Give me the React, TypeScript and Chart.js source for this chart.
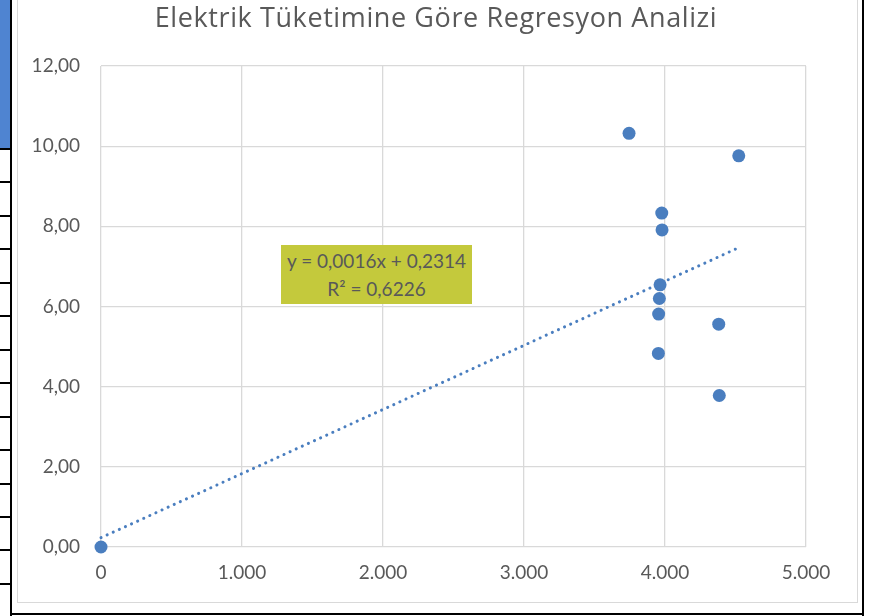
import React, { useEffect, useRef } from "react";
import { Chart, registerables } from "chart.js";

Chart.register(...registerables);

const titleText = "Elektrik Tüketimine Göre Regresyon Analizi";
const xValues = [0, 3745, 4523, 3977, 3979, 3965, 3960, 3955, 4381, 3953, 4385];
const yValues = [0, 10.32, 9.76, 8.33, 7.91, 6.54, 6.2, 5.81, 5.56, 4.83, 3.78];
const trendSlope = 0.0016;
const trendIntercept = 0.2314;
const equationLines = ["y = 0,0016x + 0,2314", "R² = 0,6226"];
const yTicks = [0, 2, 4, 6, 8, 10, 12];
const xTicks = [0, 1000, 2000, 3000, 4000, 5000];

const FONT = "Lato, 'Open Sans', sans-serif";
const TITLE_FONT = "'Open Sans', Lato, sans-serif";
const TEXT = "#595959";
const GRID = "#D9D9D9";
const BLUE = "#4A7EBF";

function fmtY(v: number) {
  return v.toFixed(2).replace(".", ",");
}
function fmtX(v: number) {
  if (v === 0) return "0";
  const s = String(Math.round(v));
  return s.replace(/\B(?=(\d{3})+(?!\d))/g, ".");
}

export default function App() {
  const ref = useRef<HTMLCanvasElement | null>(null);

  useEffect(() => {
    if (!ref.current) return;
    const points = xValues.map((x, i) => ({ x, y: yValues[i] }));
    const xMax = Math.max(...xValues);
    const trend = [
      { x: 0, y: trendIntercept },
      { x: xMax, y: trendSlope * xMax + trendIntercept },
    ];
    const chart = new Chart(ref.current, {
      type: "scatter",
      data: {
        datasets: [
          {
            data: points,
            backgroundColor: BLUE,
            borderColor: BLUE,
            pointRadius: 6.5,
            borderWidth: 0,
            clip: false,
            order: 1,
          } as any,
          {
            data: trend,
            showLine: true,
            pointRadius: 0,
            borderColor: BLUE,
            borderWidth: 3,
            borderDash: [0.1, 6.6],
            borderCapStyle: "round",
            clip: false,
            order: 2,
          } as any,
        ],
      },
      options: {
        responsive: false,
        animation: false,
        devicePixelRatio: 1,
        layout: { padding: { left: 0, right: 71, top: 66, bottom: 0 } },
        plugins: {
          legend: { display: false },
          title: { display: false },
          tooltip: { enabled: false },
        },
        scales: {
          x: {
            type: "linear",
            min: 0,
            max: 5000,
            afterBuildTicks: (axis: any) => {
              axis.ticks = xTicks.map((v) => ({ value: v }));
            },
            afterFit: (axis: any) => {
              axis.height = 69;
            },
            ticks: {
              color: TEXT,
              font: { family: FONT, size: 19 },
              padding: 14,
              maxRotation: 0,
              callback: (v: any) => fmtX(Number(v)),
            },
            grid: { color: GRID, lineWidth: 1.3, drawTicks: false },
            border: { display: false },
          },
          y: {
            type: "linear",
            min: 0,
            max: 12,
            afterBuildTicks: (axis: any) => {
              axis.ticks = yTicks.map((v) => ({ value: v }));
            },
            afterFit: (axis: any) => {
              axis.width = 101;
            },
            ticks: {
              color: TEXT,
              font: { family: FONT, size: 19 },
              padding: 21,
              callback: (v: any) => fmtY(Number(v)),
            },
            grid: { color: GRID, lineWidth: 1.3, drawTicks: false },
            border: { display: false },
          },
        },
      },
    });
    return () => chart.destroy();
  }, []);

  const rows: number[] = [];
  for (let i = 0; i < 14; i++) rows.push(148 + i * 33.45);

  return (
    <div
      style={{
        position: "fixed",
        left: 0,
        top: 0,
        width: 877,
        height: 616,
        background: "#fff",
        overflow: "hidden",
      }}
    >
      {/* outer chart border */}
      <div
        style={{
          position: "absolute",
          left: 17,
          top: -10,
          width: 839,
          height: 611,
          border: "1px solid " + GRID,
        }}
      />
      <canvas
        ref={ref}
        width={877}
        height={616}
        style={{ position: "absolute", left: 0, top: 0, width: 877, height: 616 }}
      />
      <div
        style={{
          position: "absolute",
          left: 0,
          top: 1,
          width: 872,
          textAlign: "center",
          fontFamily: TITLE_FONT,
          fontSize: 27,
          letterSpacing: 0.6,
          lineHeight: "32px",
          color: TEXT,
          whiteSpace: "nowrap",
        }}
      >
        {titleText}
      </div>
      <div
        style={{
          position: "absolute",
          left: 281,
          top: 245,
          width: 191,
          height: 59,
          background: "#C4C93C",
          display: "flex",
          flexDirection: "column",
          justifyContent: "center",
          alignItems: "center",
          fontFamily: FONT,
          fontSize: 19,
          lineHeight: "28px",
          color: TEXT,
          whiteSpace: "nowrap",
        }}
      >
        {equationLines.map((l) => (
          <div key={l}>{l}</div>
        ))}
      </div>
      {/* left sheet strip decorations */}
      <div style={{ position: "absolute", left: 0, top: 0, width: 10, height: 148, background: "#4F84D1" }} />
      <div style={{ position: "absolute", left: 10, top: 0, width: 2, height: 616, background: "#000" }} />
      {rows.map((y, i) => (
        <div
          key={i}
          style={{ position: "absolute", left: 0, top: Math.round(y), width: 11, height: 2, background: "#000" }}
        />
      ))}
      <div style={{ position: "absolute", left: 862, top: 0, width: 2, height: 616, background: "#000" }} />
      <div style={{ position: "absolute", left: 10, top: 613, width: 854, height: 2, background: "#000" }} />
    </div>
  );
}
